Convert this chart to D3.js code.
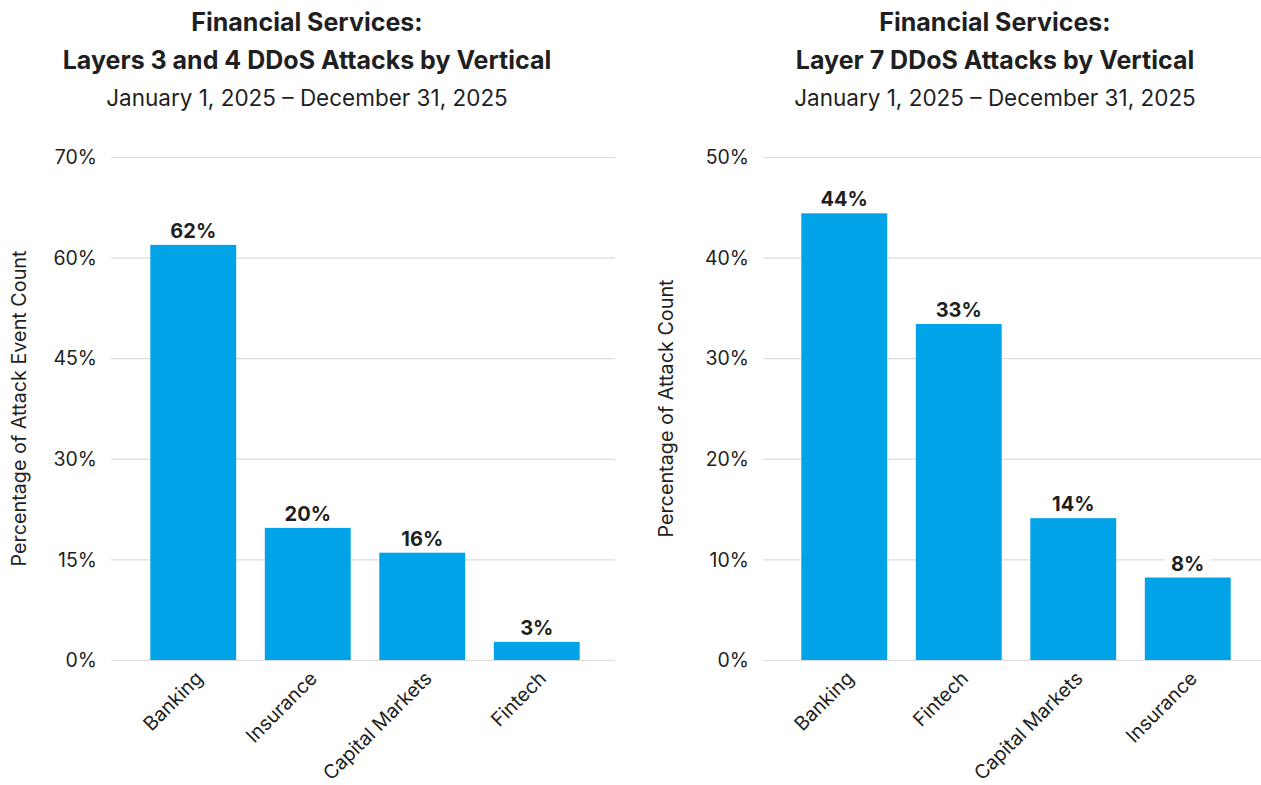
<!DOCTYPE html>
<html>
<head>
<meta charset="utf-8">
<script src="https://cdn.jsdelivr.net/npm/d3@7"></script>
<style>
  html, body { margin: 0; padding: 0; background: #fff; }
  svg { display: block; font-family: Inter, "Noto Sans", sans-serif; }
</style>
</head>
<body>
<svg id="chart" width="1261" height="785"></svg>
<script>
// Layers 3 & 4 — share of attack events per vertical (percent)
const l34Categories = ["Banking", "Insurance", "Capital Markets", "Fintech"];
const l34Values = [61.9, 19.7, 16.0, 2.7];
const l34TickValues = [0, 15, 30, 45, 60, 75];
const l34TickLabels = ["0%", "15%", "30%", "45%", "60%", "70%"];

// Layer 7 — share of attacks per vertical (percent)
const l7Categories = ["Banking", "Fintech", "Capital Markets", "Insurance"];
const l7Values = [44.4, 33.4, 14.1, 8.2];
const l7TickValues = [0, 10, 20, 30, 40, 50];
const l7TickLabels = ["0%", "10%", "20%", "30%", "40%", "50%"];

const titleLine1 = "Financial Services:";
const l34TitleLine2 = "Layers 3 and 4 DDoS Attacks by Vertical";
const l7TitleLine2 = "Layer 7 DDoS Attacks by Vertical";
const subtitle = "January 1, 2025 \u2013 December 31, 2025";
const l34AxisTitle = "Percentage of Attack Event Count";
const l7AxisTitle = "Percentage of Attack Count";

const BAR = "#00a3e8";
const INK = "#1f1f1f";
const GRID = "#dcdcdc";

const svg = d3.select("#chart");

function drawPanel(p) {
  const g = svg.append("g");

  // titles
  g.append("text").attr("x", p.titleX).attr("y", 31)
    .attr("text-anchor", "middle").attr("font-size", 25).attr("font-weight", 700)
    .attr("fill", INK).text(titleLine1);
  g.append("text").attr("x", p.titleX).attr("y", 69)
    .attr("text-anchor", "middle").attr("font-size", 25).attr("font-weight", 700)
    .attr("fill", INK).text(p.title2);
  g.append("text").attr("x", p.titleX).attr("y", 106)
    .attr("text-anchor", "middle").attr("font-size", 22.5).attr("font-weight", 400)
    .attr("fill", INK).text(subtitle);

  const y = d3.scaleLinear().domain(p.yDomain).range([660, 157]);
  const x = d3.scaleBand().domain(p.categories).range(p.xRange)
    .paddingInner(0.25).paddingOuter(0.125);

  // gridlines + tick labels
  const yAxis = d3.axisLeft(y).tickValues(p.tickValues)
    .tickSize(-(p.gridEnd - p.gridStart))
    .tickPadding(14)
    .tickFormat((d, i) => p.tickLabels[i]);
  const ag = g.append("g").attr("transform", `translate(${p.gridStart},0)`).call(yAxis);
  ag.select(".domain").remove();
  ag.selectAll(".tick line").attr("stroke", GRID).attr("stroke-width", 1.2);
  ag.selectAll(".tick text").attr("font-size", 19.5).attr("fill", INK)
    .attr("font-family", "Inter, 'Noto Sans', sans-serif").attr("dy", "0.34em");

  // axis title
  g.append("text")
    .attr("transform", `translate(${p.axisTitleX},${(157 + 660) / 2}) rotate(-90)`)
    .attr("text-anchor", "middle").attr("font-size", 19.8).attr("fill", INK)
    .text(p.axisTitle);

  // bars
  g.selectAll("rect.bar").data(p.values).join("rect").attr("class", "bar")
    .attr("x", (d, i) => x(p.categories[i]))
    .attr("width", x.bandwidth())
    .attr("y", d => y(d))
    .attr("height", d => y(0) - y(d))
    .attr("fill", BAR);

  // value labels with white backing
  const lg = g.selectAll("g.vlabel").data(p.values).join("g").attr("class", "vlabel")
    .attr("transform", (d, i) => `translate(${x(p.categories[i]) + x.bandwidth() / 2},${y(d) - 7})`);
  lg.append("text").attr("text-anchor", "middle").attr("font-size", 20)
    .attr("font-weight", 700).attr("fill", INK)
    .text(d => Math.round(d) + "%");
  lg.each(function () {
    const t = d3.select(this).select("text");
    const b = t.node().getBBox();
    d3.select(this).insert("rect", "text")
      .attr("x", b.x - 6).attr("y", b.y - 1)
      .attr("width", b.width + 12).attr("height", b.height + 2)
      .attr("fill", "#fff");
  });

  // category labels, rotated
  g.selectAll("text.cat").data(p.categories).join("text").attr("class", "cat")
    .attr("transform", d => `translate(${x(d) + x.bandwidth() / 2 + 1},${670}) rotate(-45)`)
    .attr("text-anchor", "end").attr("font-size", 19.5).attr("fill", INK)
    .attr("dy", "0.7em")
    .text(d => d);
}

drawPanel({
  titleX: 307, title2: l34TitleLine2,
  categories: l34Categories, values: l34Values,
  yDomain: [0, 75], tickValues: l34TickValues, tickLabels: l34TickLabels,
  xRange: [136, 594], gridStart: 111, gridEnd: 615,
  axisTitle: l34AxisTitle, axisTitleX: 26
});

drawPanel({
  titleX: 995, title2: l7TitleLine2,
  categories: l7Categories, values: l7Values,
  yDomain: [0, 50], tickValues: l7TickValues, tickLabels: l7TickLabels,
  xRange: [787, 1245], gridStart: 763, gridEnd: 1261,
  axisTitle: l7AxisTitle, axisTitleX: 673
});
</script>
</body>
</html>
